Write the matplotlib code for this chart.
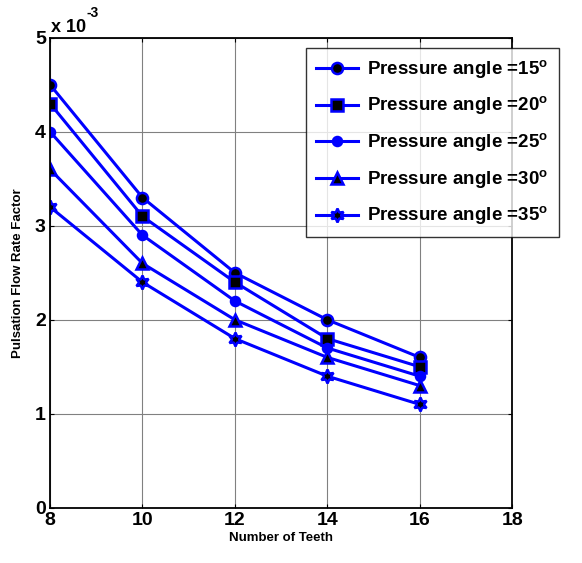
import numpy as np
import matplotlib
matplotlib.use("Agg")
import matplotlib.pyplot as plt

plt.rcParams['font.family'] = ['Liberation Sans', 'DejaVu Sans']
plt.rcParams['font.weight'] = 'bold'
plt.rcParams['mathtext.fontset'] = 'custom'
plt.rcParams['mathtext.rm'] = 'Liberation Sans:bold'

# data (values in units of 1e-3)
teeth = [8, 10, 12, 14, 16]
angles = [15, 20, 25, 30, 35]
flow_15 = [4.5, 3.3, 2.5, 2.0, 1.6]
flow_20 = [4.3, 3.1, 2.4, 1.8, 1.5]
flow_25 = [4.0, 2.9, 2.2, 1.7, 1.4]
flow_30 = [3.6, 2.6, 2.0, 1.6, 1.3]
flow_35 = [3.2, 2.4, 1.8, 1.4, 1.1]

series = [flow_15, flow_20, flow_25, flow_30, flow_35]
markers = ['o', 's', 'o', '^', (6, 1, 0)]
faces = ['black', 'black', 'blue', 'black', 'black']
sizes = [8, 8, 6.5, 9, 10]

fig = plt.figure(figsize=(5.82, 5.63), dpi=100)
ax = fig.add_axes([0.086, 0.098, 0.794, 0.835])

for vals, ang, m, fc, ms in zip(series, angles, markers, faces, sizes):
    ax.plot(teeth, vals, color='blue', lw=2.2, marker=m, markersize=ms,
            markerfacecolor=fc, markeredgecolor='blue', markeredgewidth=1.8,
            label=r'Pressure angle =%d$^{\mathrm{o}}$' % ang)

ax.set_xlim(8, 18)
ax.set_ylim(0, 5)
ax.set_xticks([8, 10, 12, 14, 16, 18])
ax.set_yticks([0, 1, 2, 3, 4, 5])
ax.grid(True, color='#808080', lw=0.8)
ax.tick_params(direction='in', length=3, labelsize=14, top=True, right=True, pad=3)
for lab in ax.get_xticklabels() + ax.get_yticklabels():
    lab.set_fontweight('bold')
for s in ax.spines.values():
    s.set_linewidth(1.3)

ax.set_xlabel('Number of Teeth', fontsize=9.5, fontweight='bold', labelpad=2)
ax.set_ylabel('Pulsation Flow Rate Factor', fontsize=9.5, fontweight='bold', labelpad=8)
fig.text(0.088, 0.943, 'x 10', fontsize=13, fontweight='bold', va='baseline')
fig.text(0.149, 0.970, '-3', fontsize=10, fontweight='bold', va='baseline')

leg = fig.legend(loc='upper left', bbox_to_anchor=(0.526, 0.915), borderaxespad=0,
                 prop={'weight': 'bold', 'size': 13.5}, frameon=True, fancybox=False,
                 edgecolor='black', handlelength=2.2, labelspacing=0.74,
                 borderpad=0.55, handletextpad=0.5)
leg.get_frame().set_linewidth(1.0)

fig.savefig('out.png', dpi=100)
